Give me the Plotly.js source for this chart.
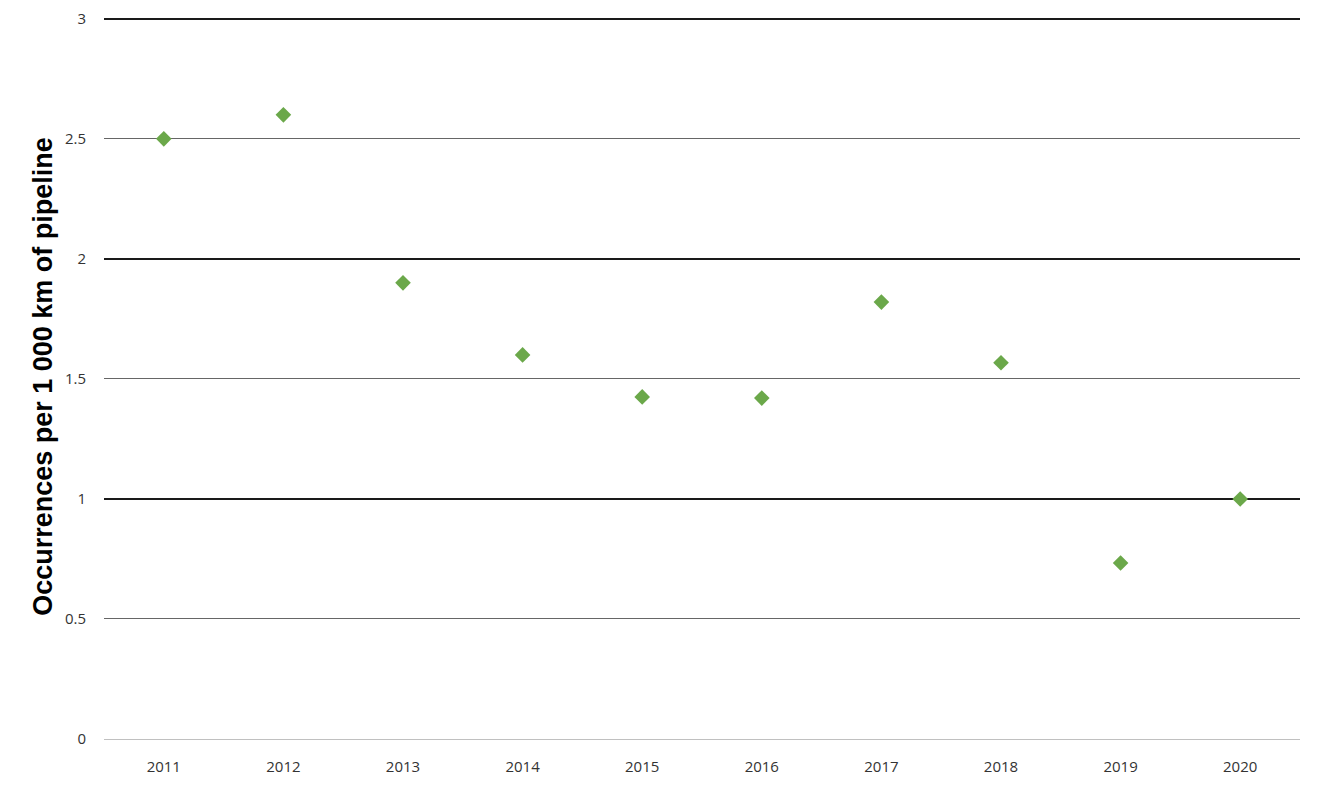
<!DOCTYPE html>
<html><head><meta charset="utf-8">
<script src="https://cdn.plot.ly/plotly-3.0.1.min.js"></script>
<style>html,body{margin:0;padding:0;background:#fff}#chart{width:1321px;height:787px}</style>
</head><body><div id="chart"></div>
<script>
const years = ['2011','2012','2013','2014','2015','2016','2017','2018','2019','2020'];
const occurrences = [2.5, 2.6, 1.9, 1.6, 1.425, 1.42, 1.82, 1.567, 0.733, 1.0];
const yTicks = [0, 0.5, 1, 1.5, 2, 2.5, 3];
const yTickText = ['0', '0.5', '1', '1.5', '2', '2.5', '3'];
const majorTicks = [1, 2, 3];

const traces = [
  {x: years, y: occurrences, type: 'scatter', mode: 'markers',
   marker: {symbol: 'diamond', size: 12, color: '#6ba84a'}, hoverinfo: 'x+y'},
  {x: years, y: occurrences, yaxis: 'y2', type: 'scatter', mode: 'markers',
   marker: {size: 1, opacity: 0}, hoverinfo: 'skip', showlegend: false}
];

const layout = {
  width: 1321, height: 787,
  margin: {l: 104, r: 21, t: 14, b: 48},
  paper_bgcolor: '#fff', plot_bgcolor: '#fff',
  showlegend: false,
  font: {family: 'Open Sans, sans-serif', color: '#333', size: 15},
  xaxis: {type: 'category', range: [-0.5, 9.5], showgrid: false, zeroline: false,
          showline: false, ticks: '', ticklabelstandoff: 17, tickfont: {size: 15, color: '#333'}},
  yaxis: {range: [0, 3.02], tickvals: yTicks, ticktext: yTickText,
          showgrid: true, gridcolor: '#666', gridwidth: 1,
          zeroline: true, zerolinecolor: '#c0c0c0', zerolinewidth: 1,
          showline: false, ticks: '', ticklabelstandoff: 17,
          tickfont: {size: 15, color: '#333'},
          title: {text: 'Occurrences per 1 000 km of pipeline',
                  font: {family: 'Liberation Sans, Arial, sans-serif', size: 27, color: '#000', weight: 'bold'},
                  standoff: 4}},
  yaxis2: {overlaying: 'y', range: [0, 3.02], tickvals: majorTicks, showticklabels: false,
           showgrid: true, gridcolor: '#1a1a1a', gridwidth: 2, zeroline: false, showline: false, ticks: ''}
};
Plotly.newPlot('chart', traces, layout, {displayModeBar: false});
</script></body></html>
